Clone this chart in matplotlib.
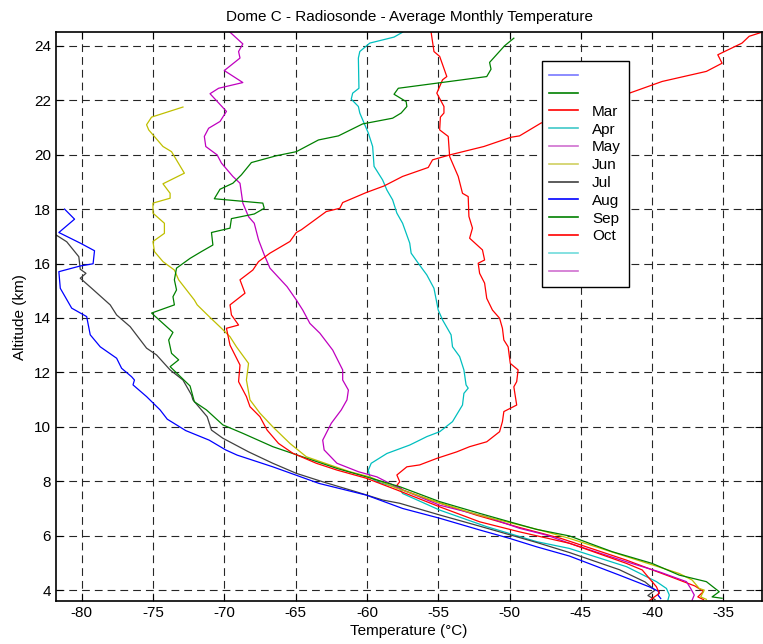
import matplotlib
matplotlib.use("Agg")
import matplotlib.pyplot as plt
from matplotlib.lines import Line2D

plt.rcParams['font.family'] = ['Liberation Sans', 'DejaVu Sans']
plt.rcParams['axes.unicode_minus'] = False

months = ['', '', 'Mar', 'Apr', 'May', 'Jun', 'Jul', 'Aug', 'Sep', 'Oct', '', '']
legend_colors = ['#7878ff', '#008000', '#ff0000', '#40c8c8', '#d070d0', '#d0d060',
                 '#404040', '#0000ff', '#008000', '#ff0000', '#70dcdc', '#d070d0']

# temperature (degC) / altitude (km) profiles
mar_t = [-55.5, -55.3, -54.9, -54.4, -54.7, -55.1, -54.6, -54.6, -54.85, -54.9, -54.3, -54.2,
         -53.6, -53.3, -52.9, -52.85, -52.6, -52.8, -51.9, -51.75, -52.2, -52.1, -51.75, -51.6,
         -51.2, -50.7, -50.5, -50.4, -50.1, -49.95, -49.4, -49.5, -49.7, -49.5, -50.4, -50.5,
         -50.7, -51.6, -52.8, -53.7, -55.1, -56.3, -57.2, -57.9, -57.7, -57.9, -57.5, -55.5,
         -52.3, -49.3, -46.4, -41.8, -38.5, -37.0, -36.4, -36.8, -36.4]
mar_z = [24.5, 23.79, 23.61, 22.87, 22.75, 22.26, 21.77, 21.53, 21.38, 20.91, 20.67, 19.93,
         19.2, 18.58, 18.46, 17.73, 17.3, 16.93, 16.5, 16.13, 16.01, 15.64, 15.28, 14.72,
         14.29, 13.99, 13.62, 13.19, 12.94, 12.33, 12.09, 11.66, 11.47, 10.8, 10.56, 10.19,
         9.82, 9.45, 9.27, 9.08, 8.84, 8.6, 8.53, 8.23, 7.98, 7.85, 7.68, 7.3,
         6.75, 6.3, 5.9, 5.1, 4.45, 4.15, 3.95, 3.75, 3.65]

apr_t = [-57.5, -58.1, -59.8, -60.5, -60.6, -60.56, -61.0, -61.1, -60.6, -60.5, -59.9, -59.6,
         -59.5, -58.9, -58.6, -58.2, -57.9, -57.5, -57.0, -56.9, -56.4, -55.8, -55.3, -55.0,
         -54.7, -54.1, -54.0, -53.5, -53.2, -53.05, -52.9, -53.2, -53.3, -54.0, -54.9, -55.8,
         -56.3, -57.0, -58.6, -59.7, -59.9, -59.8, -59.3, -57.7, -57.5, -54.9, -51.6, -48.1,
         -45.8, -41.8, -39.7, -39.0, -38.8, -38.9]
apr_z = [24.5, 24.32, 24.1, 23.79, 23.55, 22.44, 22.26, 22.04, 21.77, 21.53, 20.79, 20.3,
         19.57, 19.07, 18.7, 18.34, 17.85, 17.48, 16.75, 16.38, 16.01, 15.58, 15.09, 14.29,
         13.93, 13.38, 12.94, 12.58, 12.09, 11.54, 11.42, 11.23, 10.8, 10.19, 9.82, 9.64,
         9.51, 9.33, 9.02, 8.66, 8.41, 8.16, 7.98, 7.74, 7.55, 6.94, 6.33, 5.78,
         5.53, 4.86, 4.31, 4.06, 3.82, 3.63]

may_t = [-69.6, -68.7, -69.0, -68.9, -70.0, -68.7, -70.4, -71.0, -69.85, -70.3, -71.1, -71.4,
         -71.3, -70.5, -70.2, -69.4, -68.9, -68.7, -68.3, -67.9, -67.6, -67.2, -66.8, -65.6,
         -64.95, -64.5, -64.0, -63.3, -62.4, -61.7, -61.7, -61.3, -61.4, -61.8, -62.5, -63.1,
         -63.0, -62.1, -60.6, -59.3, -57.5, -54.9, -51.6, -49.3, -47.4, -45.8, -41.8, -39.5,
         -37.6, -37.3, -37.05, -37.2]
may_z = [24.5, 24.07, 23.79, 23.55, 23.09, 22.65, 22.44, 22.24, 21.59, 21.22, 20.97, 20.67,
         20.3, 19.99, 19.69, 19.2, 18.95, 18.22, 17.72, 17.48, 16.87, 16.32, 15.83, 15.15,
         14.66, 14.29, 13.8, 13.44, 12.82, 12.09, 11.72, 11.35, 10.99, 10.62, 10.13, 9.51,
         9.15, 8.66, 8.35, 8.16, 7.68, 7.12, 6.69, 6.27, 6.02, 5.72, 5.04, 4.67,
         4.31, 4.06, 3.82, 3.63]

jun_t = [-72.9, -75.1, -75.45, -75.3, -74.3, -73.7, -72.8, -74.3, -73.8, -73.8, -75.0, -75.0,
         -74.2, -74.2, -75.0, -74.9, -74.3, -73.5, -73.2, -72.1, -71.9, -71.1, -70.2, -69.6,
         -69.15, -68.3, -68.45, -68.2, -67.5, -66.6, -65.4, -64.25, -62.6, -61.2, -59.8, -57.9,
         -54.9, -52.1, -47.9, -45.8, -41.8, -38.1, -37.2, -36.7, -36.35, -36.6, -36.2]
jun_z = [21.75, 21.38, 21.1, 20.91, 20.3, 20.11, 19.32, 18.93, 18.58, 18.4, 18.22, 17.85,
         17.48, 17.11, 16.81, 16.44, 16.07, 15.76, 15.4, 14.66, 14.48, 14.07, 13.62, 13.31,
         12.94, 12.33, 11.72, 10.99, 10.5, 10.0, 9.39, 8.9, 8.6, 8.35, 8.16, 7.74,
         7.2, 6.75, 6.21, 5.9, 5.23, 4.61, 4.37, 4.06, 4.0, 3.75, 3.66]

jul_t = [-81.8, -81.05, -80.2, -80.1, -79.7, -80.1, -79.3, -78.0, -77.55, -76.6, -75.45, -74.75,
         -73.8, -72.9, -72.3, -72.2, -71.2, -70.9, -70.1, -68.3, -66.6, -64.95, -63.1, -60.74,
         -58.9, -57.7, -54.9, -52.1, -48.1, -45.8, -42.3, -40.5, -39.8, -40.3, -39.8]
jul_z = [17.05, 16.8, 16.25, 15.79, 15.64, 15.46, 15.09, 14.48, 14.11, 13.68, 12.89, 12.64,
         12.09, 11.72, 11.17, 10.99, 10.37, 9.88, 9.58, 9.08, 8.66, 8.29, 7.98, 7.61,
         7.31, 7.19, 6.76, 6.35, 5.75, 5.38, 4.75, 4.3, 4.0, 3.8, 3.65]

aug_t = [-81.2, -80.5, -81.6, -80.1, -79.1, -79.2, -80.1, -81.6, -81.5, -80.7, -79.65, -79.4,
         -78.7, -77.55, -77.2, -76.5, -76.3, -76.4, -75.45, -74.5, -74.0, -72.7, -71.06, -69.9,
         -69.1, -66.6, -63.36, -60.04, -57.5, -54.9, -52.1, -50.0, -48.1, -45.8, -42.3, -40.2,
         -39.5, -39.6, -39.4]
aug_z = [18.0, 17.63, 17.14, 16.75, 16.47, 15.99, 15.91, 15.7, 15.09, 14.36, 14.05, 13.38,
         12.94, 12.52, 12.15, 11.84, 11.72, 11.54, 11.11, 10.62, 10.28, 9.86, 9.51, 9.15,
         8.96, 8.53, 7.92, 7.49, 7.0, 6.64, 6.21, 5.9, 5.59, 5.25, 4.55, 4.12,
         3.94, 3.82, 3.69]

sep_t = [-49.7, -50.35, -51.4, -51.3, -51.6, -57.8, -58.1, -57.25, -57.2, -57.6, -58.2, -60.3,
         -62.0, -63.4, -64.95, -66.35, -68.1, -68.8, -69.4, -70.3, -70.7, -67.3, -67.2, -67.9,
         -69.5, -69.6, -70.9, -70.8, -71.6, -72.4, -73.35, -73.5, -73.35, -73.6, -73.5, -75.1,
         -74.3, -73.6, -73.9, -73.7, -73.2, -73.8, -72.4, -72.1, -71.25, -70.1, -68.7, -66.6,
         -64.2, -62.1, -60.04, -57.7, -54.9, -52.1, -50.0, -48.1, -45.8, -42.8, -40.0, -38.1,
         -36.2, -35.3, -35.8, -35.1]
sep_z = [24.28, 24.0, 23.39, 23.14, 22.87, 22.44, 22.22, 21.95, 21.77, 21.53, 21.34, 21.13,
         20.69, 20.54, 20.11, 19.96, 19.71, 19.26, 18.95, 18.73, 18.38, 18.22, 18.03, 17.82,
         17.65, 17.3, 17.14, 16.68, 16.44, 16.19, 15.83, 15.4, 15.03, 14.78, 14.48, 14.18,
         13.8, 13.47, 13.19, 12.7, 12.46, 12.21, 11.5, 10.92, 10.62, 10.07, 9.76, 9.27,
         8.84, 8.47, 8.16, 7.8, 7.25, 6.82, 6.51, 6.23, 5.99, 5.41, 4.98, 4.55,
         4.31, 3.94, 3.75, 3.7]

oct_t = [-32.3, -33.2, -33.7, -35.4, -35.1, -36.2, -39.3, -41.6, -47.8, -49.3, -49.9, -51.8,
         -54.2, -55.4, -55.7, -57.5, -58.8, -60.04, -61.7, -61.9, -62.85, -64.6, -64.95, -65.4,
         -66.8, -67.6, -68.0, -68.9, -68.55, -69.6, -69.5, -69.0, -69.85, -69.6, -68.9, -69.0,
         -68.45, -68.2, -67.5, -67.0, -66.2, -65.2, -63.55, -62.1, -60.04, -57.9, -54.9, -52.1,
         -49.3, -45.8, -41.8, -40.7, -39.7, -39.5, -40.0, -40.2]
oct_z = [24.5, 24.35, 24.1, 23.67, 23.36, 23.06, 22.69, 22.26, 21.16, 20.69, 20.64, 20.3,
         19.99, 19.81, 19.53, 19.2, 18.85, 18.61, 18.24, 18.03, 17.91, 17.24, 17.14, 16.81,
         16.38, 16.07, 15.76, 15.4, 14.91, 14.48, 14.11, 13.74, 13.62, 13.0, 12.27, 11.66,
         11.11, 10.74, 10.37, 9.88, 9.39, 9.03, 8.66, 8.41, 8.11, 7.68, 7.06, 6.51,
         6.14, 5.72, 4.98, 4.74, 4.12, 3.88, 3.69, 3.61]

profiles = [(mar_t, mar_z, '#ff0000'), (apr_t, apr_z, '#00bfbf'), (may_t, may_z, '#bf00bf'),
            (jun_t, jun_z, '#bfbf00'), (jul_t, jul_z, '#404040'), (aug_t, aug_z, '#0000ff'),
            (sep_t, sep_z, '#008000'), (oct_t, oct_z, '#ff0000')]

fig = plt.figure(figsize=(7.63, 6.44), dpi=100)
ax = fig.add_axes([0.0734, 0.0668, 0.9253, 0.8832])

for t, z, c in profiles:
    ax.plot(t, z, color=c, linewidth=0.9)

ax.set_xlim(-81.8, -32.3)
ax.set_ylim(3.6, 24.5)
ax.set_xticks(range(-80, -34, 5))
ax.set_yticks(range(4, 25, 2))
ax.grid(True, color='0.15', linestyle=(0, (7, 4.5)), linewidth=0.8)
ax.tick_params(direction='in', top=True, right=True, labelsize=11, length=5)
for s in ax.spines.values():
    s.set_linewidth(1.2)

ax.set_title('Dome C - Radiosonde - Average Monthly Temperature', fontsize=11, pad=8)
ax.set_xlabel('Temperature (°C)', fontsize=11, labelpad=3)
ax.set_ylabel('Altitude (km)', fontsize=11, labelpad=5)

handles = [Line2D([], [], color=c, linewidth=1.2) for c in legend_colors]
leg = ax.legend(handles, months, loc='upper right', bbox_to_anchor=(0.822, 0.962),
                fancybox=False, framealpha=1, edgecolor='black', fontsize=11,
                handlelength=1.9, labelspacing=0.25, borderpad=0.5, handletextpad=0.9)
leg.get_frame().set_linewidth(1.0)

fig.savefig('out.png', dpi=100)
